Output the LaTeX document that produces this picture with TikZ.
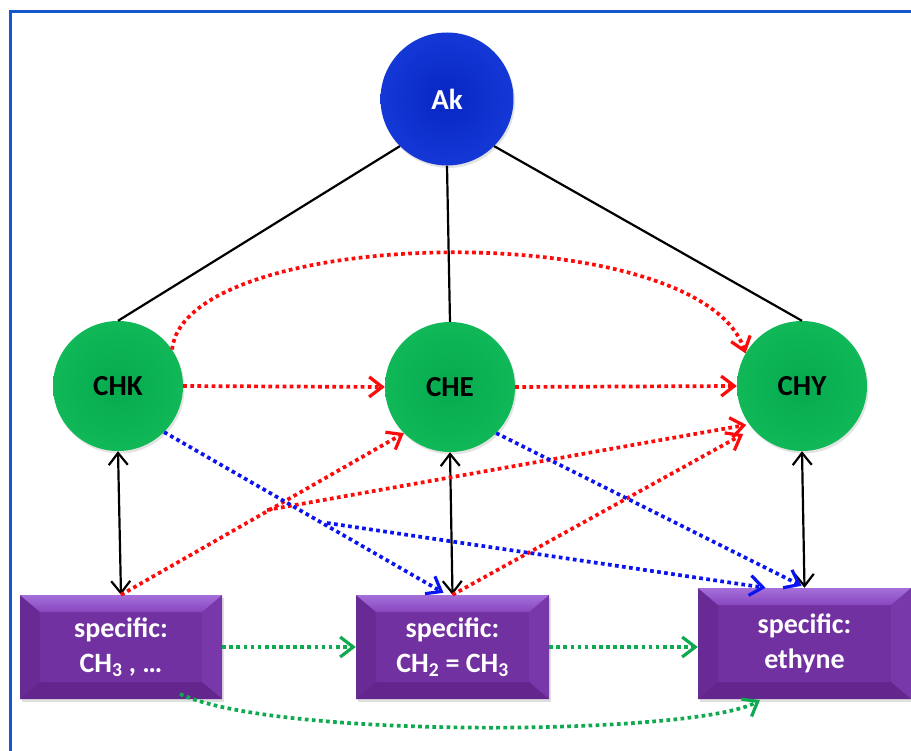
\documentclass[tikz,border=0pt]{standalone}
\usepackage{fontspec}
\setmainfont{Carlito}
\usetikzlibrary{arrows.meta,calc,shadows}
\definecolor{frameblue}{HTML}{1358CC}
\definecolor{akblue}{HTML}{0826C2}
\definecolor{akrim}{HTML}{1438D6}
\definecolor{ballgreen}{HTML}{05AA4E}
\definecolor{ballrim}{HTML}{10B858}
\definecolor{boxpurple}{HTML}{7131A0}
\definecolor{boxtop}{HTML}{A46FDA}
\definecolor{boxtopin}{HTML}{8847BF}
\definecolor{boxleft}{HTML}{682A95}
\definecolor{boxright}{HTML}{7838AA}
\definecolor{boxbottom}{HTML}{62268C}
\definecolor{dotred}{HTML}{FF0A0A}
\definecolor{dotblue}{HTML}{0A14F0}
\definecolor{dotgreen}{HTML}{0FAA50}
\begin{document}
\begin{tikzpicture}[x=1pt,y=-1pt,
  ballbase/.style={circle, inner sep=0pt, minimum size=130pt, font=\fontsize{29}{32}\selectfont\bfseries,
    drop shadow={opacity=0.22, shadow xshift=1.5pt, shadow yshift=-2.5pt}},
  akball/.style={ballbase, minimum size=133pt, inner color=akblue, outer color=akrim, text=white},
  greenball/.style={ballbase, inner color=ballgreen, outer color=ballrim, text=black},
  specbox/.style={rectangle, inner sep=0pt, fill=boxpurple, text=white, align=center,
    font=\fontsize{28}{35}\selectfont\bfseries,
    drop shadow={opacity=0.25, shadow xshift=1.5pt, shadow yshift=-2.5pt},
    path picture={
      \coordinate (nw) at (path picture bounding box.north west);
      \coordinate (ne) at (path picture bounding box.north east);
      \coordinate (sw) at (path picture bounding box.south west);
      \coordinate (se) at (path picture bounding box.south east);
      \fill[boxleft] (nw) -- ($(nw)+(20,17)$) -- ($(sw)+(20,-17)$) -- (sw) -- cycle;
      \fill[boxright] (ne) -- ($(ne)+(-20,17)$) -- ($(se)+(-20,-17)$) -- (se) -- cycle;
      \fill[boxbottom] (sw) -- ($(sw)+(20,-17)$) -- ($(se)+(-20,-17)$) -- (se) -- cycle;
      \shade[top color=boxtop, bottom color=boxtopin] (nw) -- (ne) -- ($(ne)+(-20,17)$) -- ($(nw)+(20,17)$) -- cycle;
    }},
  plain/.style={draw=black, line width=2.2pt},
  dbl/.style={draw=black, line width=2.2pt, {Straight Barb[length=12pt,width=19pt,line width=2.2pt]}-{Straight Barb[length=12pt,width=19pt,line width=2.2pt]}},
  dotline/.style={line width=3.7pt, dash pattern=on 3.7pt off 3.4pt, -{Straight Barb[length=13pt,width=20pt,line width=3.2pt]}},
  reddot/.style={dotline, draw=dotred},
  bluedot/.style={dotline, draw=dotblue},
  greendot/.style={dotline, draw=dotgreen}
]
\useasboundingbox (0,0) rectangle (911,751);
\fill[white] (0,0) rectangle (911,751);
\draw[frameblue, line width=3pt] (10,760) -- (10,12) -- (920,12);

% nodes
\node[akball] (Ak) at (447,99) {Ak};
\node[greenball] (CHK) at (118,386) {CHK};
\node[greenball] (CHE) at (450,387) {CHE};
\node[greenball] (CHY) at (802,386) {CHY};
\node[specbox, minimum width=202pt, minimum height=104pt] (B1) at (121,647) {specific:\\CH\textsubscript{3} , …};
\node[specbox, minimum width=193pt, minimum height=104pt] (B2) at (452.5,647) {specific:\\CH\textsubscript{2} = CH\textsubscript{3}};
\node[specbox, minimum width=213pt, minimum height=111pt] (B3) at (804.5,643.5) {specific:\\ethyne};

\coordinate (rsplit) at (267,510);
\coordinate (bsplit) at (327,523);
\coordinate (gstart) at (180,694);
\coordinate (gend) at (760,700);

% tree lines
\draw[plain] (Ak.south west) -- (CHK.north);
\draw[plain] (Ak.south) -- (CHE.north);
\draw[plain] (Ak.south east) -- (CHY.north);

% double arrows
\draw[dbl] (CHK.south) -- (B1.north);
\draw[dbl] (CHE.south) -- (B2.north);
\draw[dbl] (CHY.south) -- (B3.north);

% red
\draw[reddot] (CHK.east) -- (CHE.west);
\draw[reddot] (CHE.east) -- (CHY.west);
\draw[reddot] (CHK.34) .. controls (185,225) and (700,215) .. (CHY.150);
\draw[reddot] (B1.north) -- (CHE.225);
\draw[reddot, shorten >=3pt] (rsplit) -- (CHY.216);
\draw[reddot, shorten >=11pt] (B2.north) -- (CHY.221);

% blue
\draw[bluedot] (CHK.south east) -- ($(B2.north)+(-9,-2)$);
\draw[bluedot] (bsplit) -- ($(B3.north)+(-39,0)$);
\draw[bluedot] (CHE.south east) -- ($(B3.north)+(-3,-2)$);

% green
\draw[greendot] (B1.east) -- (B2.west);
\draw[greendot] (B2.east) -- (B2.east -| B3.west);
\draw[greendot] (gstart) .. controls (280,740) and (700,735) .. (gend);
\end{tikzpicture}
\end{document}
